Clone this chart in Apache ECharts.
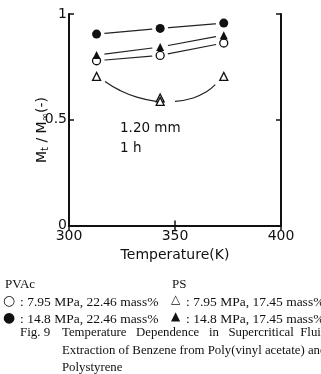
<!DOCTYPE html>
<html>
<head>
<meta charset="utf-8">
<script src="https://cdn.jsdelivr.net/npm/echarts@6/dist/echarts.min.js"></script>
<style>
html,body{margin:0;padding:0;background:#fff;}
#chart{width:321px;height:374px;}
</style>
</head>
<body>
<div id="chart"></div>
<script>
// temperatures (K)
var temps = [313, 343, 373];
// Mt/Minf values
var pvacLow = [0.779, 0.804, 0.863];   // open circle 7.95 MPa
var pvacHigh = [0.905, 0.932, 0.957];  // filled circle 14.8 MPa
var psHigh = [0.806, 0.844, 0.900];    // filled triangle 14.8 MPa
var psLowT = [313, 343, 343, 373];
var psLow = [0.705, 0.603, 0.587, 0.705]; // open triangle 7.95 MPa
// hand drawn curve through PS 7.95 MPa, two pieces
var curveLeftT = [317, 324, 332, 341];
var curveLeft = [0.681, 0.639, 0.607, 0.587];
var curveRightT = [350, 358.6, 365, 369];
var curveRight = [0.587, 0.603, 0.634, 0.666];
var xTicks = [300, 350, 400];
var yTicks = [0, 0.5, 1];

function pairs(xs, ys){
    return xs.map(function(x, i){ return [x, ys[i]]; });
}

var chart = echarts.init(document.getElementById('chart'));
var sans = 'DejaVu Sans';
var serif = 'Liberation Serif';

function lineSeries(xs, ys, smooth){
    return {
        type: 'line', data: pairs(xs, ys), symbol: 'none', smooth: smooth || false,
        lineStyle: {color: '#222', width: 1.2}, z: 2, silent: true
    };
}
function maskSeries(xs, ys){
    return {
        type: 'scatter', data: pairs(xs, ys), symbol: 'circle', symbolSize: 16,
        itemStyle: {color: '#fff', opacity: 1}, z: 3, silent: true
    };
}
function markSeries(xs, ys, symbol, filled, size){
    return {
        type: 'scatter', data: pairs(xs, ys), symbol: symbol, symbolSize: size,
        itemStyle: {color: filled ? '#111' : '#fff', borderColor: '#111', borderWidth: filled ? 0 : 1.3, opacity: 1},
        z: 4, silent: true
    };
}
function txt(x, y, s, size, fam){
    return {type: 'text', left: x, top: y, style: {text: s, font: size + 'px ' + fam, fill: '#111'}};
}

var option = {
    animation: false,
    grid: {left: 69, top: 14, width: 212, height: 211.5},
    xAxis: [{
        type: 'value', min: 300, max: 400, interval: 50,
        axisLine: {lineStyle: {color: '#111', width: 2}},
        axisTick: {inside: true, length: 5, lineStyle: {color: '#111', width: 1.5}},
        axisLabel: {fontFamily: sans, fontSize: 14, color: '#111', margin: 4,
            formatter: function(v){ return xTicks.indexOf(v) >= 0 ? String(v) : ''; }},
        splitLine: {show: false},
        name: 'Temperature(K)', nameLocation: 'middle', nameGap: 18,
        nameTextStyle: {fontFamily: sans, fontSize: 14, color: '#111'}
    }, {
        type: 'value', min: 300, max: 400, interval: 50, position: 'top',
        axisLine: {lineStyle: {color: '#111', width: 2}},
        axisTick: {inside: true, length: 5, lineStyle: {color: '#111', width: 1.5}},
        axisLabel: {show: false}, splitLine: {show: false}
    }],
    yAxis: [{
        type: 'value', min: 0, max: 1, interval: 0.5,
        axisLine: {lineStyle: {color: '#111', width: 2}},
        axisTick: {inside: true, length: 5, lineStyle: {color: '#111', width: 1.5}},
        axisLabel: {fontFamily: sans, fontSize: 14, color: '#111', margin: 2,
            formatter: function(v){ return yTicks.indexOf(v) >= 0 ? String(v) : ''; }},
        splitLine: {show: false}
    }, {
        type: 'value', min: 0, max: 1, interval: 0.5, position: 'right',
        axisLine: {lineStyle: {color: '#111', width: 2}},
        axisTick: {inside: true, length: 5, lineStyle: {color: '#111', width: 1.5}},
        axisLabel: {show: false}, splitLine: {show: false}
    }],
    graphic: [
        txt(120, 121, '1.20 mm', 13.5, sans),
        txt(120, 141, '1 h', 13.5, sans),
        {type: 'text', x: 34, y: 163, rotation: Math.PI / 2,
            style: {
                text: '{m|M}{s|t}{m| / M}{s|∞}{m|(-)}',
                rich: {
                    m: {fontFamily: sans, fontSize: 14, fill: '#111', color: '#111'},
                    s: {fontFamily: sans, fontSize: 10, fill: '#111', color: '#111', padding: [6, 0, 0, 0]}
                }
            }},
        txt(5, 278, 'PVAc', 13, serif),
        txt(172, 278, 'PS', 13, serif),
        txt(3, 294, '○', 14, 'DejaVu Sans'),
        txt(3, 311, '●', 14, 'DejaVu Sans'),
        txt(20, 295, ': 7.95 MPa, 22.46 mass%', 13.5, serif),
        txt(20, 312, ': 14.8 MPa, 22.46 mass%', 13.5, serif),
        txt(171, 294, '△', 12, 'DejaVu Sans'),
        txt(171, 311, '▲', 12, 'DejaVu Sans'),
        txt(186, 295, ': 7.95 MPa, 17.45 mass%', 13.5, serif),
        txt(186, 312, ': 14.8 MPa, 17.45 mass%', 13.5, serif),
        txt(20, 326, 'Fig. 9', 13, serif),
        txt(62, 326, 'Temperature   Dependence   in   Supercritical  Fluid', 12.8, serif),
        txt(62, 344, 'Extraction of Benzene from Poly(vinyl acetate) and', 12.8, serif),
        txt(62, 361, 'Polystyrene', 12.8, serif)
    ],
    series: [
        lineSeries(temps, pvacLow),
        lineSeries(temps, pvacHigh),
        lineSeries(temps, psHigh),
        lineSeries(curveLeftT, curveLeft, true),
        lineSeries(curveRightT, curveRight, true),
        maskSeries(temps, pvacLow),
        maskSeries(temps, pvacHigh),
        maskSeries(temps, psHigh),
        markSeries(temps, pvacLow, 'circle', false, 8),
        markSeries(temps, pvacHigh, 'circle', true, 9),
        markSeries(temps, psHigh, 'triangle', true, 8),
        markSeries(psLowT, psLow, 'triangle', false, 8)
    ]
};
chart.setOption(option);
</script>
</body>
</html>
